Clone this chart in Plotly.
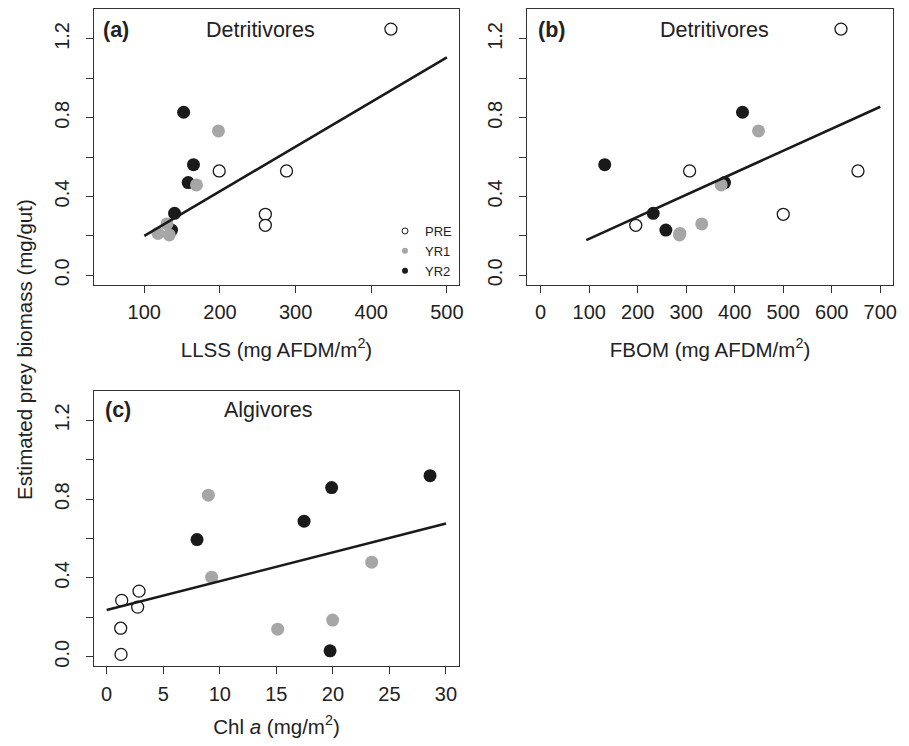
import plotly.graph_objects as go

# ---------------- data ----------------
# Detritivores: estimated prey biomass (mg/gut)
det_pre = [1.25, 0.53, 0.53, 0.31, 0.254]
det_yr1 = [0.733, 0.459, 0.213, 0.205, 0.261]
det_yr2 = [0.828, 0.562, 0.471, 0.315, 0.230]

llss_pre = [426, 199, 288, 260, 260]
llss_yr1 = [198, 169, 118, 133, 130]
llss_yr2 = [152, 165, 158, 140, 136]

fbom_pre = [619, 307, 654, 500, 196]
fbom_yr1 = [449, 372, 287, 286, 332]
fbom_yr2 = [416, 132, 379, 232, 258]

# Algivores
chl_pre = [1.33, 2.86, 2.74, 1.24, 1.27]
alg_pre = [0.286, 0.333, 0.252, 0.145, 0.012]
chl_yr1 = [8.99, 9.28, 15.12, 19.98, 23.43]
alg_yr1 = [0.820, 0.404, 0.140, 0.186, 0.480]
chl_yr2 = [7.99, 17.45, 19.89, 28.59, 19.75]
alg_yr2 = [0.595, 0.688, 0.859, 0.919, 0.030]

# fitted regression lines (end points)
fit_llss_x = [100, 500]
fit_llss_y = [0.200, 1.107]
fit_fbom_x = [94, 700]
fit_fbom_y = [0.179, 0.856]
fit_chl_x = [0, 30]
fit_chl_y = [0.237, 0.676]

y_tickvals = [0.0, 0.4, 0.8, 1.2]
y_minorvals = [0.2, 0.6, 1.0]
llss_ticks = [100, 200, 300, 400, 500]
fbom_ticks = [0, 100, 200, 300, 400, 500, 600, 700]
chl_ticks = [0, 5, 10, 15, 20, 25, 30]

groups = ["PRE", "YR1", "YR2"]

# ---------------- styling ----------------
# the page body adds an 8 px margin, so the figure is 16 px smaller than the window
OFF = 8
W, H = 909 - 2 * OFF, 746 - 2 * OFF
FONT = "Liberation Sans, Arial, Helvetica, sans-serif"
TXT = "#222222"
AX = "#333333"
GRAY = "#a6a6a6"
BLACK = "#1a1a1a"


def px_x(p):
    return (p - OFF) / W


def px_y(p):
    return 1 - (p - OFF) / H


style = {
    "PRE": dict(color="white", size=12, line=dict(color=BLACK, width=1.3)),
    "YR1": dict(color=GRAY, size=13, line=dict(color=GRAY, width=0)),
    "YR2": dict(color=BLACK, size=13, line=dict(color=BLACK, width=0)),
}

fig = go.Figure()

panels = [
    ("x", "y", {"PRE": (llss_pre, det_pre), "YR1": (llss_yr1, det_yr1), "YR2": (llss_yr2, det_yr2)},
     (fit_llss_x, fit_llss_y)),
    ("x2", "y2", {"PRE": (fbom_pre, det_pre), "YR1": (fbom_yr1, det_yr1), "YR2": (fbom_yr2, det_yr2)},
     (fit_fbom_x, fit_fbom_y)),
    ("x3", "y3", {"PRE": (chl_pre, alg_pre), "YR1": (chl_yr1, alg_yr1), "YR2": (chl_yr2, alg_yr2)},
     (fit_chl_x, fit_chl_y)),
]

for xa, ya, data, fit in panels:
    for g in ["PRE", "YR2", "YR1"]:
        xs, ys = data[g]
        fig.add_trace(go.Scatter(x=xs, y=ys, mode="markers", xaxis=xa, yaxis=ya,
                                 marker=dict(symbol="circle", **style[g]),
                                 showlegend=False, name=g))
    fig.add_trace(go.Scatter(x=fit[0], y=fit[1], mode="lines", xaxis=xa, yaxis=ya,
                             line=dict(color=BLACK, width=2.6), showlegend=False))

# legend-only entries (small symbols as in the reference)
leg_style = {
    "PRE": dict(color="white", size=6, line=dict(color=BLACK, width=1)),
    "YR1": dict(color=GRAY, size=6, line=dict(color=GRAY, width=0)),
    "YR2": dict(color=BLACK, size=6, line=dict(color=BLACK, width=0)),
}
for g in groups:
    fig.add_trace(go.Scatter(x=[None], y=[None], mode="markers", xaxis="x", yaxis="y",
                             marker=dict(symbol="circle", **leg_style[g]), name=g, showlegend=True))

common_axis = dict(showline=True, mirror=True, linecolor=AX, linewidth=1.3,
                   ticks="outside", ticklen=7, tickwidth=1, tickcolor=AX,
                   showgrid=False, zeroline=False, automargin=False,
                   tickfont=dict(family=FONT, size=20, color=TXT))

y_axis = dict(tickvals=y_tickvals, tickformat=".1f", tickangle=-90, ticklabelstandoff=9,
              minor=dict(tickvals=y_minorvals, ticks="outside", ticklen=7, tickwidth=1,
                         tickcolor=AX, showgrid=False),
              **common_axis)

xdomA = [px_x(94), px_x(459)]
xdomB = [px_x(527), px_x(893)]
ydomTop = [px_y(285), px_y(9)]
ydomBot = [px_y(666), px_y(391)]

title_font = dict(family=FONT, size=20.5, color=TXT)

fig.update_layout(
    width=W, height=H, autosize=False,
    margin=dict(l=0, r=0, t=0, b=0),
    paper_bgcolor="white", plot_bgcolor="white",
    font=dict(family=FONT, color=TXT),
    xaxis=dict(domain=xdomA, anchor="y", range=[33.5, 516], tickvals=llss_ticks,
               ticklabelstandoff=2,
               title=dict(text="LLSS (mg AFDM/m<sup>2</sup>)", font=title_font, standoff=20),
               **common_axis),
    yaxis=dict(domain=ydomTop, anchor="x", range=[-0.049, 1.352], **y_axis),
    xaxis2=dict(domain=xdomB, anchor="y2", range=[-28.2, 726.2], tickvals=fbom_ticks,
                ticklabelstandoff=2,
                title=dict(text="FBOM (mg AFDM/m<sup>2</sup>)", font=title_font, standoff=20),
                **common_axis),
    yaxis2=dict(domain=ydomTop, anchor="x2", range=[-0.049, 1.352], **y_axis),
    xaxis3=dict(domain=xdomA, anchor="y3", range=[-1.12, 31.15], tickvals=chl_ticks,
                ticklabelstandoff=3,
                title=dict(text="Chl <i>a</i> (mg/m<sup>2</sup>)", font=title_font, standoff=22),
                **common_axis),
    yaxis3=dict(domain=ydomBot, anchor="x3", range=[-0.047, 1.349], **y_axis),
    legend=dict(x=px_x(458), xanchor="right", y=px_y(286), yanchor="bottom",
                bgcolor="rgba(0,0,0,0)", font=dict(family=FONT, size=13, color=TXT),
                itemsizing="trace", tracegroupgap=0),
)

annots = [
    ("<b>(a)</b>", 116, 30), ("Detritivores", 260.5, 30),
    ("<b>(b)</b>", 551.5, 30), ("Detritivores", 714, 30),
    ("<b>(c)</b>", 117.5, 410), ("Algivores", 267.5, 410),
]
for text, xp, yp in annots:
    fig.add_annotation(text=text, x=px_x(xp), y=px_y(yp), xref="paper", yref="paper",
                       xanchor="center", yanchor="middle", showarrow=False,
                       font=dict(family=FONT, size=21.5, color=TXT))

fig.add_annotation(text="Estimated prey biomass (mg/gut)", x=px_x(24), y=px_y(350),
                   xref="paper", yref="paper", xanchor="center", yanchor="middle",
                   textangle=-90, showarrow=False, font=dict(family=FONT, size=20.5, color=TXT))

fig.write_html("out.html")
